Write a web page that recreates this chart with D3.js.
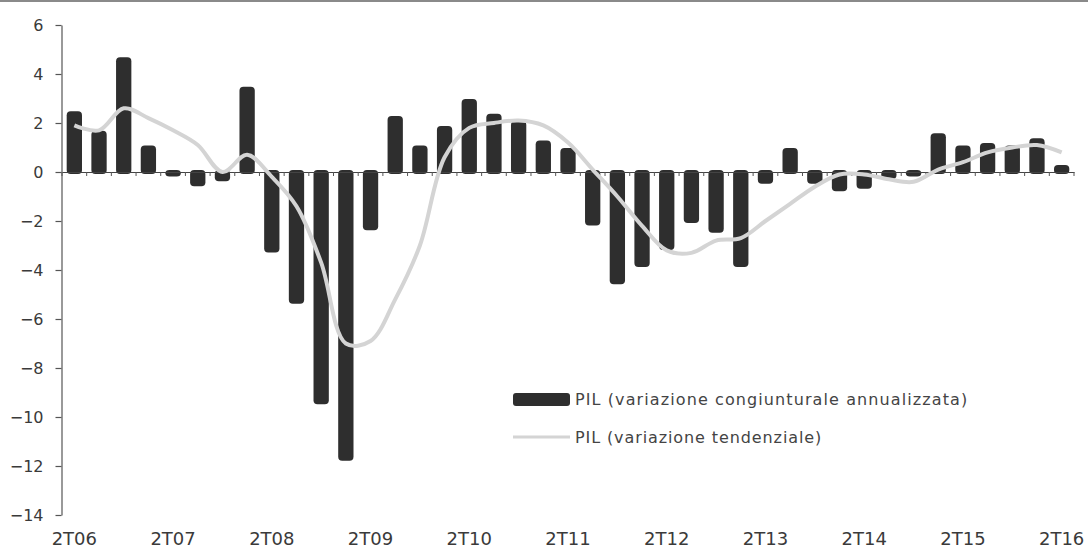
<!DOCTYPE html>
<html>
<head>
<meta charset="utf-8">
<script src="https://cdn.jsdelivr.net/npm/d3@7/dist/d3.min.js"></script>
<style>
  html, body { margin: 0; padding: 0; background: #fff; }
  svg { display: block; font-family: "DejaVu Sans", sans-serif; }
</style>
</head>
<body>
<svg id="chart" width="1088" height="550"></svg>
<script>
// Quarters 2T06 ... 2T16
const years = ["06","07","08","09","10","11","12","13","14","15","16"];
const quarters = [];
for (let y = 0; y < years.length; y++) {
  for (let q = 2; q <= 5; q++) {
    const qq = q > 4 ? q - 4 : q;
    const yy = q > 4 ? years[y + 1] : years[y];
    if (yy === undefined) continue;
    quarters.push(qq + "T" + yy);
  }
}
const categories = quarters.slice(0, 41);

const congiunturale = [
  2.4, 1.6, 4.6, 1.0, -0.1, -0.5, -0.3, 3.4,
  -3.2, -5.3, -9.4, -11.7, -2.3, 2.2, 1.0, 1.8,
  2.9, 2.3, 2.0, 1.2, 0.9, -2.1, -4.5, -3.8,
  -3.1, -2.0, -2.4, -3.8, -0.4, 0.9, -0.4, -0.7,
  -0.6, -0.2, -0.1, 1.5, 1.0, 1.1, 1.0, 1.3,
  0.2
];

const tendenziale = [
  1.9, 1.7, 2.6, 2.2, 1.7, 1.1, 0.0, 0.7,
  -0.2, -1.4, -3.7, -7.0, -6.9, -5.2, -3.0, 0.6,
  1.8, 2.0, 2.1, 1.9, 1.2, 0.1, -1.0, -2.2,
  -3.2, -3.3, -2.8, -2.7, -2.0, -1.3, -0.6, -0.1,
  -0.1, -0.3, -0.4, 0.1, 0.4, 0.8, 1.0, 1.1,
  0.8
];

const xTickLabels = ["2T06","2T07","2T08","2T09","2T10","2T11","2T12","2T13","2T14","2T15","2T16"];
const yTicks = [6, 4, 2, 0, -2, -4, -6, -8, -10, -12, -14];
const legendLabels = ["PIL (variazione congiunturale annualizzata)", "PIL (variazione tendenziale)"];

const svg = d3.select("#chart");

// top frame line
svg.append("line").attr("x1", 0).attr("x2", 1088).attr("y1", 1).attr("y2", 1)
  .attr("stroke", "#8a8a8a").attr("stroke-width", 2);

const x = d3.scaleBand().domain(categories).range([62, 1074]).paddingInner(0.38).paddingOuter(0.19);
const y = d3.scaleLinear().domain([-14, 6]).range([515, 25]);

// y axis
const yAxis = d3.axisLeft(y).tickValues(yTicks).tickSize(6).tickSizeOuter(0).tickPadding(12)
  .tickFormat(d3.format("d"));
const gy = svg.append("g").attr("transform", "translate(61.5,0)").call(yAxis);
gy.select(".domain").attr("stroke", "#555").attr("stroke-width", 1.2);
gy.selectAll(".tick line").attr("stroke", "#555").attr("stroke-width", 1.2);
gy.selectAll(".tick text").attr("font-size", 16).attr("fill", "#3a3a3a")
  .style("font-family", "DejaVu Sans, sans-serif");

// bars
svg.append("g").selectAll("rect").data(congiunturale).join("rect")
  .attr("x", (d, i) => x(categories[i]))
  .attr("width", x.bandwidth())
  .attr("y", d => Math.min(y(d), y(0)) - 2)
  .attr("height", d => Math.abs(y(d) - y(0)) + 4)
  .attr("rx", 4)
  .attr("fill", "#2e2e2e");

// zero axis with minor ticks at band boundaries
const zeroAxis = d3.axisBottom(x).tickValues([]).tickSizeOuter(0);
const gz = svg.append("g").attr("transform", `translate(0,${y(0)})`).call(zeroAxis);
gz.select(".domain").attr("stroke", "#444").attr("stroke-width", 1.2);
const step = x.step();
const boundaries = categories.map((c, i) => x(c) - (step - x.bandwidth()) / 2).concat([x(categories[categories.length - 1]) + x.bandwidth() + (step - x.bandwidth()) / 2]);
gz.selectAll("line.minor").data(boundaries).join("line").attr("class", "minor")
  .attr("x1", d => d).attr("x2", d => d).attr("y1", 0).attr("y2", 4)
  .attr("stroke", "#555").attr("stroke-width", 1);

// line
const line = d3.line()
  .x((d, i) => x(categories[i]) + x.bandwidth() / 2)
  .y(d => y(d))
  .curve(d3.curveCatmullRom.alpha(0.5));
svg.append("path").datum(tendenziale)
  .attr("d", line)
  .attr("fill", "none")
  .attr("stroke", "#d4d4d4")
  .attr("stroke-width", 4)
  .attr("stroke-linejoin", "round");

// x labels
const xLab = svg.append("g");
xTickLabels.forEach(lbl => {
  xLab.append("text")
    .attr("x", x(lbl) + x.bandwidth() / 2)
    .attr("y", 545)
    .attr("text-anchor", "middle")
    .attr("font-size", 18)
    .attr("fill", "#3a3a3a")
    .text(lbl);
});

// legend
const lg = svg.append("g");
lg.append("rect").attr("x", 513).attr("y", 393).attr("width", 57).attr("height", 13)
  .attr("rx", 3).attr("fill", "#2e2e2e");
lg.append("text").attr("x", 575).attr("y", 405).attr("font-size", 16)
  .attr("letter-spacing", 1.1).attr("fill", "#444")
  .text(legendLabels[0]);
lg.append("line").attr("x1", 513).attr("x2", 570).attr("y1", 437).attr("y2", 437)
  .attr("stroke", "#d4d4d4").attr("stroke-width", 3);
lg.append("text").attr("x", 575).attr("y", 443).attr("font-size", 16)
  .attr("letter-spacing", 0.9).attr("fill", "#444")
  .text(legendLabels[1]);
</script>
</body>
</html>
